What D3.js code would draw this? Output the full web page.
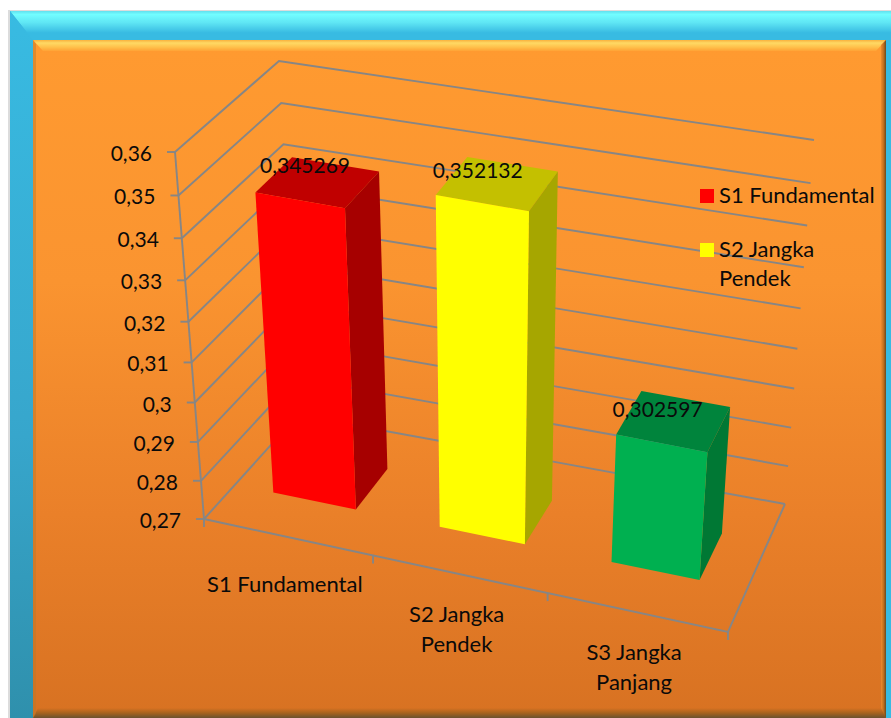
<!DOCTYPE html>
<html>
<head>
<meta charset="utf-8">
<script src="https://cdn.jsdelivr.net/npm/d3@7"></script>
<style>
html,body{margin:0;padding:0;background:#fff;}
svg{display:block;}
text{font-family:Lato,"Open Sans",sans-serif;fill:#0a0a0a;}
</style>
</head>
<body>
<svg id="chart" width="891" height="718"></svg>
<script>
// Chart data
const categories = ["S1 Fundamental", "S2 Jangka Pendek", "S3 Jangka Panjang"];
const categoryLines = [["S1 Fundamental"], ["S2 Jangka", "Pendek"], ["S3 Jangka", "Panjang"]];
const values = [0.345269, 0.352132, 0.302597];
const valueLabels = ["0,345269", "0,352132", "0,302597"];
const axisTicks = [0.27, 0.28, 0.29, 0.30, 0.31, 0.32, 0.33, 0.34, 0.35, 0.36];
const axisTickLabels = ["0,27", "0,28", "0,29", "0,3", "0,31", "0,32", "0,33", "0,34", "0,35", "0,36"];
const legendEntries = [["S1 Fundamental"], ["S2 Jangka", "Pendek"]];

// Bar colours: front, top, side
const frontColors = ["#ff0000", "#ffff00", "#00b050"];
const topColors = ["#c00000", "#c4c000", "#00843c"];
const sideColors = ["#a60000", "#a6a600", "#007834"];

// Box corners on screen: floor and ceiling of the plot volume
const floor = { fl: [204, 519], fr: [728, 632], br: [785, 504], bl: [298, 415] };
const ceil = { fl: [175, 152], fr: [755, 258], br: [814, 140], bl: [279, 61] };

// Perspective foreshortening along a normalised axis
const warp = k => s => s / (k + (1 - k) * s);
const warpU = warp(1.05);
const warpV = warp(0.93);

const valueScale = d3.scaleLinear().domain([0.27, 0.36]).range([1, 0]);
const bandScale = d3.scaleBand().domain(categories).range([-0.005, 0.995]).paddingInner(0.5).paddingOuter(0.25);
const depthScale = d3.scaleLinear().domain([0, 1]).range([0.33, 0.70]);

const mix = (a, b, t) => [a[0] + (b[0] - a[0]) * t, a[1] + (b[1] - a[1]) * t];
function onPlane(p, u, w) {
  return mix(mix(p.fl, p.bl, w), mix(p.fr, p.br, w), u);
}
// Map (across, value, depth) into screen coordinates
function project(u, v, w) {
  return mix(onPlane(ceil, warpU(u), w), onPlane(floor, warpU(u), w), warpV(valueScale(v)));
}
// Points on the back wall sit at full depth
const backPoint = (u, v) => project(u, v, 1);

const svg = d3.select("#chart");
const defs = svg.append("defs");
const poly = pts => "M" + pts.map(p => p.join(",")).join("L") + "Z";
const open = d3.line();

function vGradient(id, stops, y1, y2) {
  const g = defs.append("linearGradient").attr("id", id)
    .attr("gradientUnits", "userSpaceOnUse")
    .attr("x1", 0).attr("x2", 0).attr("y1", y1).attr("y2", y2);
  stops.forEach(s => g.append("stop").attr("offset", s[0]).attr("stop-color", s[1]));
}
function hGradient(id, stops, x1, x2) {
  const g = defs.append("linearGradient").attr("id", id)
    .attr("gradientUnits", "userSpaceOnUse")
    .attr("y1", 0).attr("y2", 0).attr("x1", x1).attr("x2", x2);
  stops.forEach(s => g.append("stop").attr("offset", s[0]).attr("stop-color", s[1]));
}

vGradient("frameTop", [[0, "#62e0ee"], [0.12, "#72fdff"], [0.4, "#5fe6f4"], [0.75, "#38bbe2"], [1, "#38bbe2"]], 11, 40);
vGradient("frameLeft", [[0, "#38bbe2"], [0.6, "#37a6cc"], [1, "#2f90ac"]], 12, 718);
vGradient("panelFill", [[0, "#ff9a30"], [0.35, "#fa9430"], [0.7, "#ea8029"], [1, "#d87222"]], 50, 713);
vGradient("panelTop", [[0, "#f8b23e"], [0.25, "#ffd964"], [0.6, "#ffc04a"], [1, "#ff9b30"]], 40, 52);
hGradient("panelRight", [[0, "#f08a2c"], [0.5, "#c0701f"], [1, "#6b4a1c"]], 881, 886);
vGradient("panelBottom", [[0, "#d87222"], [0.5, "#a7631f"], [1, "#6b5230"]], 708, 718);

// Frame with bevelled edges
const frame = svg.append("g");
frame.append("rect").attr("x", 8).attr("y", 10).attr("width", 883).attr("height", 708).attr("fill", "#dcdcdc");
frame.append("rect").attr("x", 10).attr("y", 11).attr("width", 881).attr("height", 707).attr("fill", "#38bbe2");
frame.append("path").attr("d", poly([[10, 11], [891, 11], [891, 40], [33, 40]])).attr("fill", "url(#frameTop)");
frame.append("path").attr("d", poly([[10, 11], [33, 40], [33, 718], [10, 718]])).attr("fill", "url(#frameLeft)");

// Inner panel with its own bevel
const panel = svg.append("g");
panel.append("rect").attr("x", 33).attr("y", 40).attr("width", 853).attr("height", 678).attr("fill", "url(#panelFill)");
panel.append("path").attr("d", poly([[33, 40], [886, 40], [876, 51], [43, 51]])).attr("fill", "url(#panelTop)");
panel.append("path").attr("d", poly([[886, 40], [886, 718], [881, 713], [881, 45]])).attr("fill", "url(#panelRight)");
panel.append("path").attr("d", poly([[33, 718], [886, 718], [881, 708], [38, 708]])).attr("fill", "url(#panelBottom)");
panel.append("path").attr("d", poly([[33, 40], [36, 44], [36, 714], [33, 718]])).attr("fill", "#b9772a").attr("opacity", 0.45);

// Walls: one bent gridline per tick, then the floor outline
const grid = svg.append("g").attr("fill", "none").attr("stroke", "#868686").attr("stroke-width", 1.9);
axisTicks.forEach(t => {
  grid.append("path").attr("d", open([project(0, t, 0), backPoint(0, t), backPoint(1, t)]));
  const a = project(0, t, 0);
  grid.append("path").attr("d", open([[a[0] - 8, a[1]], a]));
});
grid.append("path").attr("d", open([project(0, 0.36, 0), project(0, 0.27, 0)]));
const base = valueScale.domain()[0];
grid.append("path").attr("d", open([project(0, base, 0), project(1, base, 0), backPoint(1, base)]));
[0, 1, 2, 3].forEach(i => {
  const a = project(i / 3, base, 0);
  grid.append("path").attr("d", open([a, [a[0], a[1] + 8]]));
});

// Value labels along the left axis
svg.append("g").selectAll("text").data(axisTicks).join("text")
  .attr("x", d => project(0, d, 0)[0] - 23)
  .attr("y", d => project(0, d, 0)[1] + 9)
  .attr("text-anchor", "end")
  .attr("font-size", 21)
  .text((d, i) => axisTickLabels[i]);

// Bars as boxes: top, right side, front
const bars = svg.append("g");
values.forEach((v, i) => {
  const c = categories[i];
  const u0 = bandScale(c), u1 = u0 + bandScale.bandwidth();
  const w0 = depthScale(0), w1 = depthScale(1);
  const ftl = project(u0, v, w0), ftr = project(u1, v, w0);
  const fbl = project(u0, base, w0), fbr = project(u1, base, w0);
  const btl = project(u0, v, w1), btr = project(u1, v, w1);
  const bbr = project(u1, base, w1);
  bars.append("path").attr("d", poly([ftl, ftr, btr, btl])).attr("fill", topColors[i]);
  bars.append("path").attr("d", poly([ftr, fbr, bbr, btr])).attr("fill", sideColors[i]);
  bars.append("path").attr("d", poly([ftl, ftr, fbr, fbl])).attr("fill", frontColors[i]);
});

// Value labels sit over the top face of each bar
const labelDx = [5, -4.5, -4];
const labelDy = [-27, -25, -26];
svg.append("g").selectAll("text").data(values).join("text")
  .attr("x", (d, i) => project(bandScale(categories[i]) + bandScale.bandwidth() / 2, d, depthScale(0))[0] + labelDx[i])
  .attr("y", (d, i) => project(bandScale(categories[i]) + bandScale.bandwidth() / 2, d, depthScale(0))[1] + labelDy[i])
  .attr("text-anchor", "middle")
  .attr("font-size", 21)
  .text((d, i) => valueLabels[i]);

// Category labels below the front floor edge
const catDy = [55, 48, 48];
categoryLines.forEach((lines, i) => {
  const uMid = (i + 0.5) / 3;
  const p = project(uMid, base, 0);
  const t = svg.append("text").attr("text-anchor", "middle").attr("font-size", 22);
  lines.forEach((line, j) => {
    t.append("tspan").attr("x", p[0] - 3).attr("y", p[1] + catDy[i] + j * 29.5).text(line);
  });
});

// Legend, as far as it fits in the panel
const legendTop = [189, 243];
legendEntries.forEach((lines, i) => {
  svg.append("rect").attr("x", 700).attr("y", legendTop[i]).attr("width", 14).attr("height", 14).attr("fill", frontColors[i]);
  const t = svg.append("text").attr("font-size", 22);
  lines.forEach((line, j) => {
    t.append("tspan").attr("x", 719).attr("y", legendTop[i] + 14 + j * 29).text(line);
  });
});
</script>
</body>
</html>
